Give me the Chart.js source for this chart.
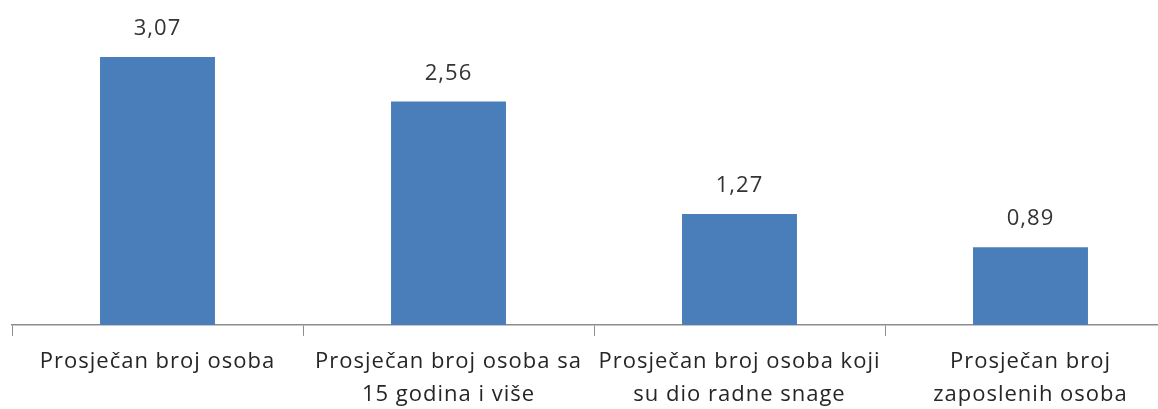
<!DOCTYPE html>
<html>
<head>
<meta charset="utf-8">
<script src="https://cdn.jsdelivr.net/npm/chart.js@4.4.0/dist/chart.umd.min.js"></script>
<style>
  html, body { margin: 0; padding: 0; background: #fff; overflow: hidden; }
  #wrap { position: relative; width: 1180px; height: 421px; }
</style>
</head>
<body>
<div id="wrap"><canvas id="barChart"></canvas></div>
<script>
"use strict";

// Kategorije (višeredne oznake)
const categories = [
    ["Prosječan broj osoba"],
    ["Prosječan broj osoba sa", "15 godina i više"],
    ["Prosječan broj osoba koji", "su dio radne snage"],
    ["Prosječan broj", "zaposlenih osoba"]
];

// Vrijednosti
const values = [3.07, 2.56, 1.27, 0.89];

// Raspon y-osi
const yMin = 0;
const yMax = 3.5;

// razmak slova (bliže izgledu originala)
const spacing = {
    id: 'spacing',
    beforeInit(chart) { chart.ctx.letterSpacing = '1px'; },
    beforeDraw(chart) { chart.ctx.letterSpacing = '1px'; }
};

// Oznake vrijednosti iznad stupaca
const valueLabels = {
    id: 'valueLabels',
    afterDatasetsDraw(chart) {
        const ctx = chart.ctx;
        const meta = chart.getDatasetMeta(0);
        ctx.save();
        ctx.letterSpacing = '1px';
        ctx.font = '22px "Open Sans"';
        ctx.fillStyle = '#333333';
        ctx.textAlign = 'center';
        ctx.textBaseline = 'middle';
        meta.data.forEach((bar, i) => {
            const txt = values[i].toFixed(2).replace('.', ',');
            ctx.fillText(txt, bar.x, bar.y - 28);
        });
        ctx.restore();
    }
};

const barChartEl = document.getElementById('barChart');
new Chart(barChartEl, {
    type: 'bar',
    data: {
        labels: categories,
        datasets: [{
            data: values,
            backgroundColor: '#4a7ebb',
            borderWidth: 0,
            categoryPercentage: 1,
            barPercentage: 0.395
        }]
    },
    options: {
        responsive: true,
        maintainAspectRatio: false,
        animation: false,
        layout: { padding: { left: 12, right: 4, top: 19.5, bottom: 0 } },
        plugins: {
            legend: { display: false },
            tooltip: { enabled: false }
        },
        scales: {
            x: {
                offset: true,
                grid: {
                    offset: true,
                    drawOnChartArea: false,
                    drawTicks: true,
                    tickLength: 11,
                    color: '#8c8c8c'
                },
                border: { display: true, color: '#8c8c8c', width: 1.5 },
                ticks: {
                    color: '#262626',
                    font: { family: '"Open Sans"', size: 22, lineHeight: 1.48 },
                    padding: 10,
                    maxRotation: 0,
                    autoSkip: false
                }
            },
            y: {
                display: false,
                min: yMin,
                max: yMax
            }
        }
    },
    plugins: [spacing, valueLabels]
});
</script>
</body>
</html>
